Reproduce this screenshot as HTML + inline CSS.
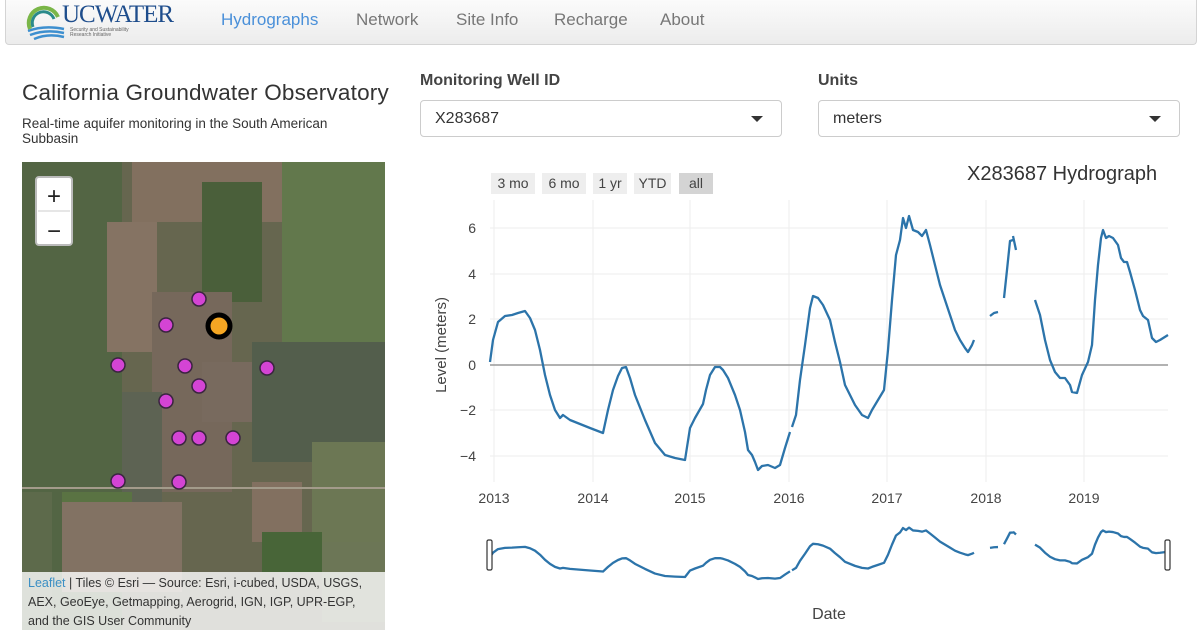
<!DOCTYPE html>
<html><head><meta charset="utf-8"><style>
body{margin:0;width:1200px;height:630px;background:#fff;font-family:"Liberation Sans",sans-serif;position:relative;overflow:hidden}
.nav{position:absolute;left:5px;top:0;width:1190px;height:44px;background:linear-gradient(#fbfbfb,#ececec);border:1px solid #d4d4d4;border-top:none;border-radius:0 0 4px 4px}
.nav span{position:absolute;top:10px;font-size:17px;color:#777}
.abs{position:absolute}
.sel{position:absolute;height:37px;border:1px solid #ccc;border-radius:4px;box-sizing:border-box;font-size:16px;color:#333;padding:9px 14px}
.sel:after{content:"";position:absolute;right:18px;top:15px;border:6px solid transparent;border-top:6px solid #333}
.btn{position:absolute;top:173px;height:21px;background:#eee;font-size:14px;color:#444;text-align:center;line-height:21px}
</style></head><body>
<div class="nav">
<svg class="abs" style="left:18px;top:3px" width="44" height="38"><path d="M6 26 A15 15 0 1 1 34 14" stroke="#7ab648" stroke-width="4" fill="none"/><path d="M9 24 A11 11 0 1 1 30 16" stroke="#2a8a8a" stroke-width="3" fill="none"/><path d="M4 28 Q20 22 40 26 M6 32 Q22 26 40 30 M10 36 Q24 30 40 34" stroke="#3d8fcf" stroke-width="2.5" fill="none"/></svg>
<div class="abs" style="left:56px;top:1px;font-family:'Liberation Serif',serif;font-size:25px;color:#1e4d8c;letter-spacing:-1px">UCWATER</div>
<div class="abs" style="left:64px;top:28px;font-size:5px;color:#666;line-height:5px">Security and Sustainability<br>Research Initiative</div>
<span style="left:215px;color:#4a90d9">Hydrographs</span>
<span style="left:350px">Network</span>
<span style="left:450px">Site Info</span>
<span style="left:548px">Recharge</span>
<span style="left:654px">About</span>
</div>
<div class="abs" style="left:22px;top:80px;font-size:22.5px;color:#333;letter-spacing:0.2px">California Groundwater Observatory</div>
<div class="abs" style="left:22px;top:116px;font-size:13.5px;color:#333;line-height:15px;width:360px">Real-time aquifer monitoring in the South American Subbasin</div>
<div class="abs" style="left:420px;top:72px;font-size:16px;font-weight:bold;color:#444">Monitoring Well ID</div>
<div class="abs" style="left:818px;top:72px;font-size:16px;font-weight:bold;color:#444">Units</div>
<div class="sel" style="left:420px;top:100px;width:362px">X283687</div>
<div class="sel" style="left:818px;top:100px;width:362px">meters</div>

<svg class="abs" style="left:22px;top:162px" width="363" height="468">
<rect width="363" height="468" fill="#66664f"/>
<rect x="0" y="0" width="100" height="468" fill="#536544"/>
<rect x="110" y="0" width="150" height="60" fill="#82705f"/>
<rect x="85" y="60" width="50" height="130" fill="#857363"/>
<rect x="180" y="20" width="60" height="120" fill="#4a5f3a"/>
<rect x="260" y="0" width="103" height="260" fill="#62784c"/>
<rect x="130" y="130" width="80" height="200" fill="#76685b"/>
<rect x="180" y="200" width="60" height="60" fill="#786a5e"/>
<rect x="230" y="180" width="133" height="120" fill="#535e4c"/>
<rect x="290" y="280" width="73" height="110" fill="#6c7754"/>
<rect x="100" y="230" width="40" height="140" fill="#5d6353"/>
<rect x="40" y="330" width="70" height="50" fill="#5a7343"/>
<rect x="0" y="330" width="30" height="130" fill="#5d6a4b"/>
<rect x="40" y="340" width="120" height="90" fill="#827263"/>
<rect x="230" y="320" width="50" height="60" fill="#827060"/>
<rect x="240" y="370" width="60" height="40" fill="#486538"/>
<rect x="300" y="380" width="63" height="80" fill="#6c7656"/>
<rect x="0" y="325" width="363" height="2" fill="#a39b8b"/>
<g stroke="#3a2440" stroke-width="1.5" fill="#d444d4">
<circle cx="177" cy="137" r="7"/><circle cx="144" cy="163" r="7"/><circle cx="96" cy="203" r="7"/><circle cx="163" cy="204" r="7"/><circle cx="245" cy="206" r="7"/><circle cx="177" cy="224" r="7"/><circle cx="144" cy="239" r="7"/><circle cx="157" cy="276" r="7"/><circle cx="177" cy="276" r="7"/><circle cx="211" cy="276" r="7"/><circle cx="96" cy="319" r="7"/><circle cx="157" cy="320" r="7"/></g>
<circle cx="197" cy="164" r="11" fill="#f5a623" stroke="#000" stroke-width="5"/>
<rect x="14" y="15" width="36" height="68" rx="3" fill="#fff" stroke="#bbb" stroke-width="2"/>
<line x1="16" y1="49" x2="48" y2="49" stroke="#ccc"/>
<text x="32" y="42" font-size="24" text-anchor="middle" font-family="Liberation Sans" fill="#222">+</text>
<text x="32" y="77" font-size="24" text-anchor="middle" font-family="Liberation Sans" fill="#222">−</text>
<rect x="0" y="410" width="363" height="58" fill="#fff" opacity="0.8"/>
<text font-size="12.5" font-family="Liberation Sans" fill="#333"><tspan x="6" y="425"><tspan fill="#3b8fc4">Leaflet</tspan> | Tiles © Esri — Source: Esri, i-cubed, USDA, USGS,</tspan><tspan x="6" y="444">AEX, GeoEye, Getmapping, Aerogrid, IGN, IGP, UPR-EGP,</tspan><tspan x="6" y="463">and the GIS User Community</tspan></text>
</svg>

<div class="btn" style="left:491px;width:44px">3 mo</div>
<div class="btn" style="left:542px;width:44px">6 mo</div>
<div class="btn" style="left:593px;width:34px">1 yr</div>
<div class="btn" style="left:634px;width:37px">YTD</div>
<div class="btn" style="left:679px;width:34px;background:#d4d4d4">all</div>
<div class="abs" style="left:967px;top:163px;font-size:20px;color:#333">X283687 Hydrograph</div>

<svg class="abs" style="left:0;top:0" width="1200" height="630" font-family="Liberation Sans">
<g stroke="#eee" stroke-width="1">
<line x1="494" y1="200" x2="494" y2="482"/><line x1="593" y1="200" x2="593" y2="482"/><line x1="690" y1="200" x2="690" y2="482"/><line x1="789" y1="200" x2="789" y2="482"/><line x1="887" y1="200" x2="887" y2="482"/><line x1="986" y1="200" x2="986" y2="482"/><line x1="1084" y1="200" x2="1084" y2="482"/>
<line x1="490" y1="228" x2="1168" y2="228"/><line x1="490" y1="274" x2="1168" y2="274"/><line x1="490" y1="319" x2="1168" y2="319"/><line x1="490" y1="410" x2="1168" y2="410"/><line x1="490" y1="456" x2="1168" y2="456"/></g>
<line x1="490" y1="365" x2="1168" y2="365" stroke="#999" stroke-width="1.5"/>
<g font-size="14" fill="#444" text-anchor="end"><text x="476" y="233">6</text><text x="476" y="279">4</text><text x="476" y="324">2</text><text x="476" y="370">0</text><text x="476" y="415">−2</text><text x="476" y="461">−4</text></g>
<g font-size="14" fill="#444" text-anchor="middle"><text x="494" y="503">2013</text><text x="593" y="503">2014</text><text x="690" y="503">2015</text><text x="789" y="503">2016</text><text x="887" y="503">2017</text><text x="986" y="503">2018</text><text x="1084" y="503">2019</text></g>
<text transform="translate(446,345) rotate(-90)" font-size="15" fill="#444" text-anchor="middle">Level (meters)</text>
<text x="829" y="619" font-size="16" fill="#444" text-anchor="middle">Date</text>
<defs><g id="s" fill="none" stroke="#2c74aa" stroke-width="2.3" stroke-linejoin="round">
<path vector-effect="non-scaling-stroke" d="M490,362 L493,340 498,322 505,316 512,315 518,313 525,311 530,318 535,330 540,350 545,375 550,395 555,410 560,418 563,415 570,420 590,428 603,433 608,410 613,390 618,376 622,368 626,367 630,378 635,395 645,420 655,443 665,455 675,458 685,460 690,428 695,418 703,404 706,390 710,375 715,367 720,367 723,370 728,378 735,395 740,410 745,432 748,450 752,455 755,462 758,470 762,466 768,465 775,468 780,465 785,448 790,432"/>
<path vector-effect="non-scaling-stroke" d="M792,427 L796,415 800,380 805,345 810,308 813,296 818,298 823,305 830,320 835,342 840,362 845,385 855,405 862,415 868,418 872,410 878,400 884,390 888,350 892,300 896,255 900,240 903,218 906,228 909,216 913,230 918,232 922,236 926,230 930,245 935,265 940,285 945,300 950,315 955,330 960,340 965,348 968,352 972,345 974,340"/>
<path vector-effect="non-scaling-stroke" d="M990,316 L994,313 998,312 M1004,298 L1007,270 1010,241 1013,240 M1013,236 L1016,250"/>
<path vector-effect="non-scaling-stroke" d="M1035,300 L1040,315 1045,340 1050,360 1055,372 1060,378 1065,378 1070,385 1072,392 1077,393 1082,375 1088,362 1092,345 1095,300 1098,265 1101,238 1103,230 1106,238 1109,236 1113,238 1118,245 1121,258 1124,262 1127,262 1130,272 1135,290 1140,310 1143,316 1148,320 1152,338 1156,342 1160,340 1168,335"/>
</g></defs>
<use href="#s"/>
<use href="#s" transform="translate(0,483.9) scale(1,0.2024)"/>
<rect x="487" y="540" width="5" height="30" rx="1.5" fill="#fff" stroke="#333" stroke-width="1.2"/>
<rect x="1165" y="540" width="5" height="30" rx="1.5" fill="#fff" stroke="#333" stroke-width="1.2"/>
</svg>
</body></html>
